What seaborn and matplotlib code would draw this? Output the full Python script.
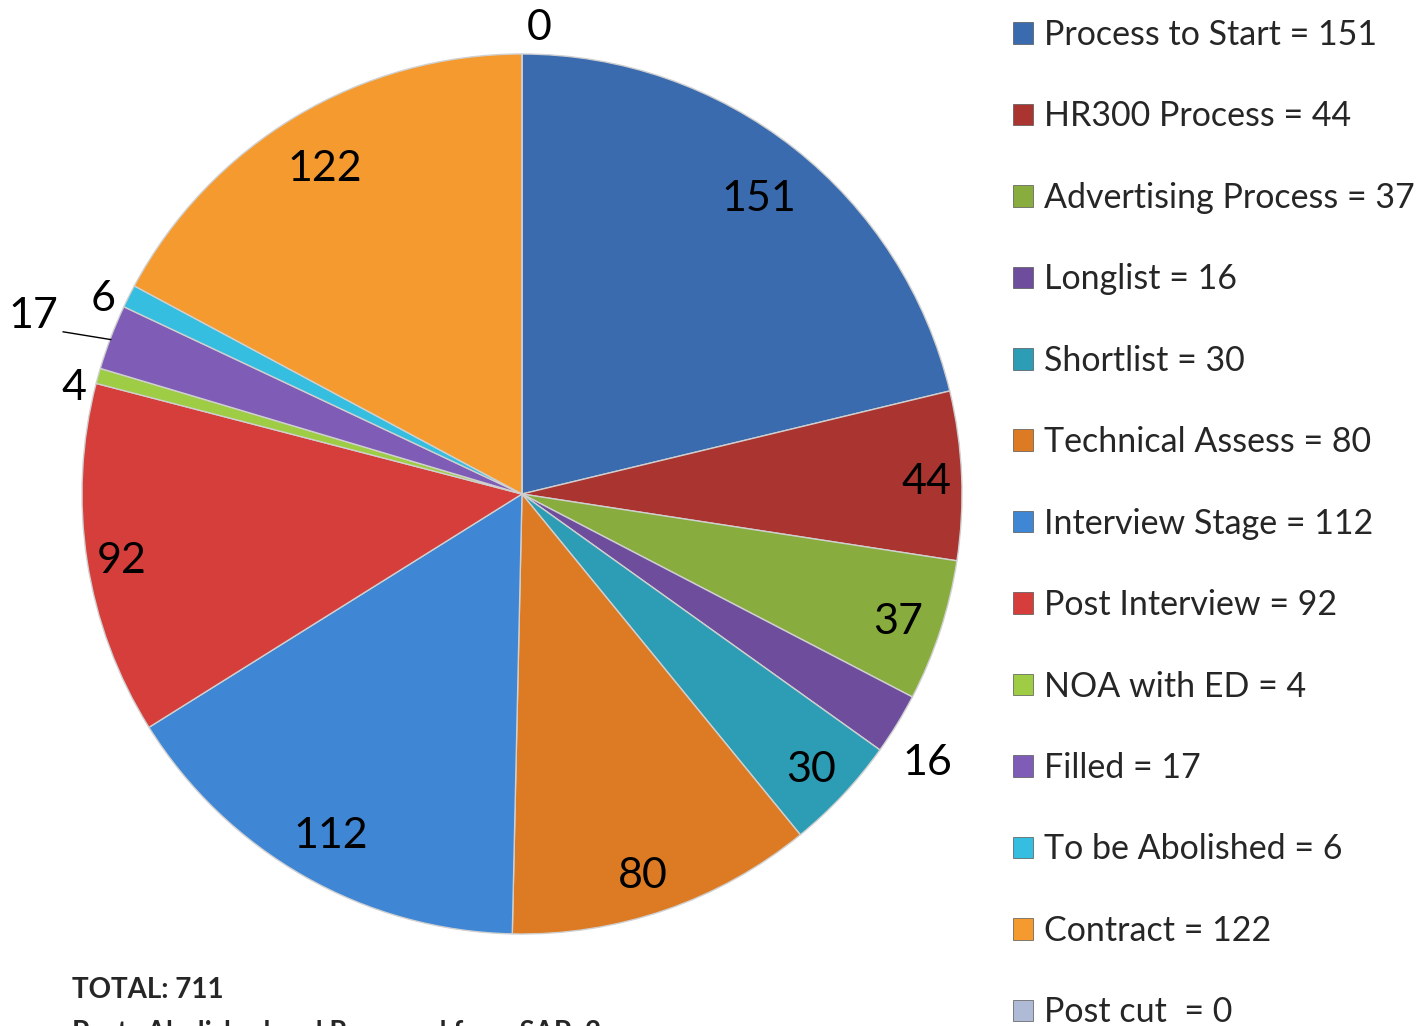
import matplotlib
matplotlib.use("Agg")
import matplotlib.pyplot as plt
import seaborn as sns
import numpy as np
from matplotlib.patches import Patch

sns.set_theme(style="white")
plt.rcParams['font.family'] = ['Lato', 'DejaVu Sans']

categories = ["Process to Start", "HR300 Process", "Advertising Process", "Longlist",
              "Shortlist", "Technical Assess", "Interview Stage", "Post Interview",
              "NOA with ED", "Filled", "To be Abolished", "Contract", "Post cut "]
values = [151, 44, 37, 16, 30, 80, 112, 92, 4, 17, 6, 122, 0]
colors = ["#3A6BAE", "#AA3430", "#88AD3E", "#6E4E9C", "#2C9DB5", "#DD7B25",
          "#3F86D4", "#D53E3B", "#9ECC45", "#7F5DB6", "#36BEE0", "#F59A2E", "#AFBAD6"]
label_radius = [0.87, 0.92, 0.90, 1.10, 0.90, 0.90, 0.88, 0.92, 1.05, 1.185, 1.055, 0.875, 1.07]
label_angle_shift = [0, 0, 0, -1.5, 0, -1.2, 0, 0, 1.6, 0.3, 1.2, 0, 0]
total_text = "TOTAL: 711"
removed_text = "Posts Abolished and Removed from SAP: 2"

W, H = 1416, 1026
fig = plt.figure(figsize=(W / 100, H / 100), dpi=100)
cx, cy, R = 522, 494, 440
ax = fig.add_axes([(cx - R) / W, (H - cy - R) / H, 2 * R / W, 2 * R / H])
wedges, _ = ax.pie(values, colors=colors, startangle=90, counterclock=False,
                   radius=1.0, wedgeprops=dict(edgecolor="#d0d0d0", linewidth=1.0))
ax.set_xlim(-1, 1)
ax.set_ylim(-1, 1)
ax.set_aspect("equal")
ax.axis("off")

tot = sum(values)
cum = 0
dy_fix = -0.012
for i, v in enumerate(values):
    mid = cum + v / 2
    ang = np.deg2rad(90 - 360 * mid / tot + label_angle_shift[i])
    cum += v
    r = label_radius[i]
    x, y = r * np.cos(ang), r * np.sin(ang) + dy_fix
    if categories[i] == "Post cut ":
        x += 0.04
    ax.text(x, y, str(v), ha="center", va="center", fontsize=31, color="black",
            clip_on=False)
    if categories[i] == "Filled":
        ax.plot([x + 0.066, 0.998 * np.cos(ang)],
                [y - 0.036, 0.998 * np.sin(ang)],
                color="black", lw=1.0, clip_on=False)

handles = [Patch(facecolor=c, edgecolor="#555555", linewidth=0.5) for c in colors]
labels = [f"{c} = {v}" for c, v in zip(categories, values)]
fig.legend(handles, labels, loc="upper left", bbox_to_anchor=(1013 / W, 1 - 19 / H),
           frameon=False, fontsize=24.5, handlelength=0.6, handleheight=0.6,
           handletextpad=0.32, labelspacing=1.453, borderaxespad=0, borderpad=0)

fig.text(72 / W, 1 - 990 / H, total_text, fontsize=20, fontweight="bold",
         ha="left", va="center")
fig.text(72 / W, 1 - 1033 / H, removed_text, fontsize=20, fontweight="bold",
         ha="left", va="center")

fig.savefig("out.png", dpi=100)
